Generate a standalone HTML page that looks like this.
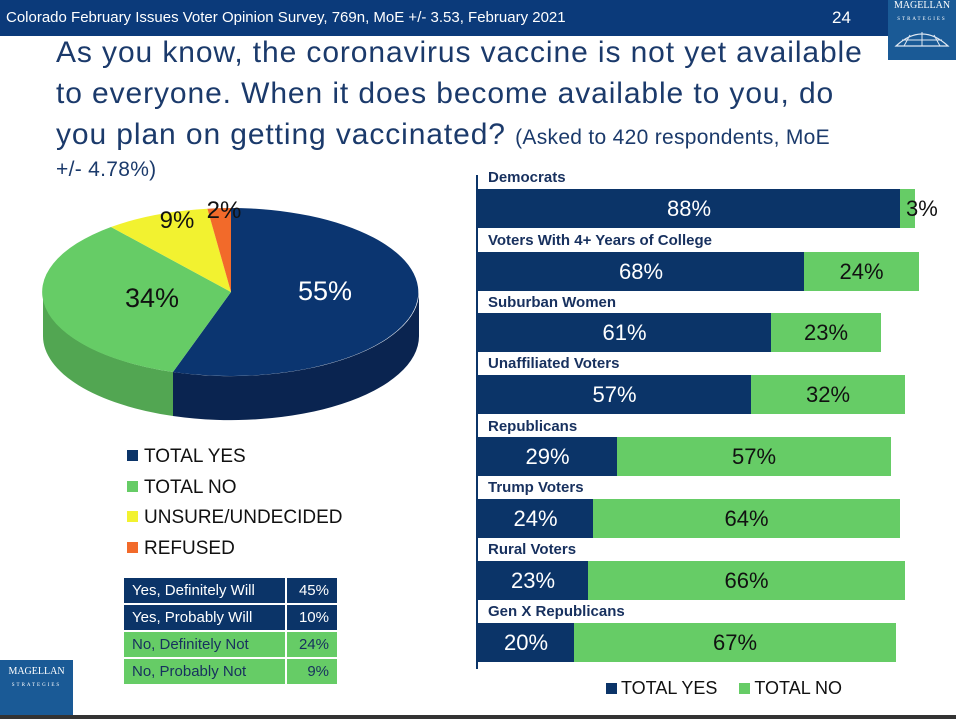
<!DOCTYPE html>
<html><head><meta charset="utf-8"><style>
body{margin:0;width:956px;height:719px;position:relative;background:#fff;font-family:"Liberation Sans",sans-serif;overflow:hidden}
.abs{position:absolute}
.hdr{left:0;top:0;width:888px;height:36px;background:#0b3a7a;color:#fff;font-size:15px;line-height:36px}
.title{left:56px;top:32px;color:#1b3a6b;font-size:30px;line-height:41px;width:900px;letter-spacing:0.9px;white-space:nowrap}
.lab{font-weight:bold;font-size:15px;color:#17305e;left:488px}
.b{position:absolute;height:39px;line-height:39px;text-align:center;font-size:22px}
.y{background:#0b3468;color:#fff}.n{background:#66cc66;color:#111}
.leg{left:127px;font-size:19px;color:#111}
.leg i{display:inline-block;width:11px;height:11px;margin-right:6px;vertical-align:1px}
table{border-collapse:separate;border-spacing:2px;font-size:15px}
td{height:25px;padding:0 8px}
</style></head><body>
<div class="abs hdr"><span style="margin-left:6px">Colorado February Issues Voter Opinion Survey, 769n, MoE +/- 3.53, February 2021</span><span style="position:absolute;left:832px;font-size:17px">24</span></div>
<div class="abs" style="left:888px;top:0;width:68px;height:60px;background:#1a5a96;color:#fff;font-family:'Liberation Serif',serif;font-size:10px;text-align:center;line-height:12px">MAGELLAN<br><span style="font-size:5px;letter-spacing:2px">STRATEGIES</span>
<svg width="60" height="24" viewBox="0 0 60 24"><path d="M4 20 Q30 -4 56 20 Z" fill="none" stroke="#dfe8f2" stroke-width="1.2"/><path d="M4 20 L56 20 M30 6 L30 20 M18 9 L12 20 M42 9 L48 20 M10 14 L50 14" stroke="#dfe8f2" stroke-width="1"/></svg></div>
<div class="abs title">As you know, the coronavirus vaccine is not yet available<br>to everyone. When it does become available to you, do<br>you plan on getting vaccinated? <span style="font-size:21px;letter-spacing:0.3px">(Asked to 420 respondents, MoE</span><br><span style="font-size:21px;letter-spacing:0.3px;position:relative;top:-12px">+/- 4.78%)</span></div>

<svg class="abs" style="left:0;top:0" width="470" height="440">
<path d="M419 292 A188 84 0 0 1 173 372 L173 416 A188 84 0 0 0 419 336 Z" fill="#0a2450"/>
<path d="M173 372 A188 84 0 0 1 43 292 L43 336 A188 84 0 0 0 173 416 Z" fill="#52a652"/>
<path d="M231 292 L231 208 A188 84 0 1 1 173 372 Z" fill="#0b3570"/>
<path d="M231 292 L173 372 A188 84 0 0 1 111 227 Z" fill="#66cc66"/>
<path d="M231 292 L111 227 A188 84 0 0 1 207.4 208.7 Z" fill="#f2f230"/>
<path d="M231 292 L207.4 208.7 A188 84 0 0 1 231 208 Z" fill="#f26a2a"/>
<text x="325" y="300" fill="#fff" font-size="27" text-anchor="middle">55%</text>
<text x="152" y="307" fill="#111" font-size="27" text-anchor="middle">34%</text>
<text x="177" y="228" fill="#111" font-size="24" text-anchor="middle">9%</text>
<text x="224" y="218" fill="#111" font-size="24" text-anchor="middle">2%</text>
</svg>

<div class="abs leg" style="top:446px"><i style="background:#0b3468"></i>TOTAL YES</div>
<div class="abs leg" style="top:477px"><i style="background:#66cc66"></i>TOTAL NO</div>
<div class="abs leg" style="top:507px"><i style="background:#f2f230"></i>UNSURE/UNDECIDED</div>
<div class="abs leg" style="top:538px"><i style="background:#f26a2a"></i>REFUSED</div>

<table class="abs" style="left:122px;top:576px">
<tr><td style="background:#0b3468;color:#fff;width:145px">Yes, Definitely Will</td><td style="background:#0b3468;color:#fff;width:34px;text-align:right">45%</td></tr>
<tr><td style="background:#0b3468;color:#fff">Yes, Probably Will</td><td style="background:#0b3468;color:#fff;text-align:right">10%</td></tr>
<tr><td style="background:#66cc66;color:#17305e">No, Definitely Not</td><td style="background:#66cc66;color:#17305e;text-align:right">24%</td></tr>
<tr><td style="background:#66cc66;color:#17305e">No, Probably Not</td><td style="background:#66cc66;color:#17305e;text-align:right">9%</td></tr>
</table>

<div class="abs" style="left:0;top:660px;width:73px;height:59px;background:#1a5a96;color:#fff;font-family:'Liberation Serif',serif;font-size:10px;text-align:center;line-height:12px;padding-top:6px;box-sizing:border-box">MAGELLAN<br><span style="font-size:5px;letter-spacing:2px">STRATEGIES</span></div>
<div class="abs" style="left:0;top:715px;width:956px;height:4px;background:#333"></div>

<div class="abs" style="left:476px;top:175px;width:2px;height:494px;background:#0b3468"></div>

<div class="abs lab" style="top:169px">Democrats</div>
<div class="b y" style="left:478px;top:189px;width:422px">88%</div><div class="b n" style="left:900px;top:189px;width:15px;overflow:visible;text-align:left"><span style="margin-left:6px">3%</span></div>

<div class="abs lab" style="top:232px">Voters With 4+ Years of College</div>
<div class="b y" style="left:478px;top:252px;width:326px">68%</div><div class="b n" style="left:804px;top:252px;width:115px">24%</div>

<div class="abs lab" style="top:294px">Suburban Women</div>
<div class="b y" style="left:478px;top:313px;width:293px">61%</div><div class="b n" style="left:771px;top:313px;width:110px">23%</div>

<div class="abs lab" style="top:355px">Unaffiliated Voters</div>
<div class="b y" style="left:478px;top:375px;width:273px">57%</div><div class="b n" style="left:751px;top:375px;width:154px">32%</div>

<div class="abs lab" style="top:418px">Republicans</div>
<div class="b y" style="left:478px;top:437px;width:139px">29%</div><div class="b n" style="left:617px;top:437px;width:274px">57%</div>

<div class="abs lab" style="top:479px">Trump Voters</div>
<div class="b y" style="left:478px;top:499px;width:115px">24%</div><div class="b n" style="left:593px;top:499px;width:307px">64%</div>

<div class="abs lab" style="top:541px">Rural Voters</div>
<div class="b y" style="left:478px;top:561px;width:110px">23%</div><div class="b n" style="left:588px;top:561px;width:317px">66%</div>

<div class="abs lab" style="top:603px">Gen X Republicans</div>
<div class="b y" style="left:478px;top:623px;width:96px">20%</div><div class="b n" style="left:574px;top:623px;width:322px">67%</div>

<div class="abs" style="left:606px;top:678px;font-size:18px;color:#111"><i style="display:inline-block;width:11px;height:11px;background:#0b3468;margin-right:4px"></i>TOTAL YES<i style="display:inline-block;width:11px;height:11px;background:#66cc66;margin:0 4px 0 22px"></i>TOTAL NO</div>
</body></html>
